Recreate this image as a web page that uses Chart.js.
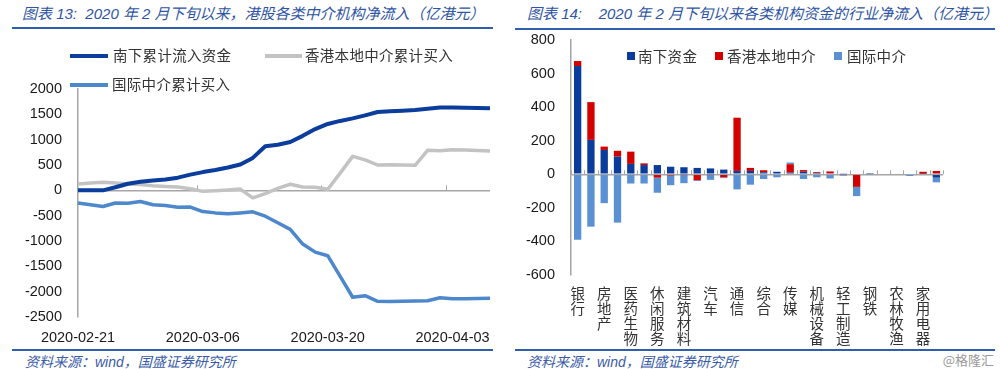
<!DOCTYPE html>
<html>
<head>
<meta charset="utf-8">
<script src="https://cdn.jsdelivr.net/npm/chart.js@4"></script>
<style>
  body { margin: 0; width: 1000px; height: 369px; background: #fff; position: relative; overflow: hidden;
         font-family: "Liberation Sans", Arial, "Noto Sans CJK SC", sans-serif; }
  .title { position: absolute; top: 2px; font-size: 15px; font-style: italic; color: #2f55a4; white-space: nowrap;
           font-family: "Liberation Sans", "Noto Sans CJK SC", sans-serif; }
  .rule { position: absolute; background: #2e5fae; }
  .source { position: absolute; top: 351px; font-size: 14px; font-style: italic; color: #3a5ba8; white-space: nowrap;
            font-family: "Liberation Sans", "Noto Sans CJK SC", sans-serif; }
  .box { position: absolute; }
  .lg { position: absolute; font-size: 14.5px; color: #333; white-space: nowrap; letter-spacing: 0.3px;
        font-family: "Noto Sans CJK SC", sans-serif; line-height: 18px; }
  .lg i { position: absolute; display: block; }
  .mark { position: absolute; top: 350px; right: 6px; font-size: 13px; color: #9a9a9a; font-family: "Noto Sans CJK SC", sans-serif; }
</style>
</head>
<body>

<div class="title" style="left:22px">图表 13:&nbsp; 2020 年 2 月下旬以来，港股各类中介机构净流入（亿港元）</div>
<div class="rule" style="left:12px; top:27px; width:481px; height:2px"></div>
<div class="title" style="left:527px">图表 14:&nbsp;&nbsp;&nbsp; 2020 年 2 月下旬以来各类机构资金的行业净流入（亿港元）</div>
<div class="rule" style="left:515px; top:28px; width:480px; height:2px"></div>

<div class="box" style="left:0; top:30px; width:500px; height:318px"><canvas id="flowChart" width="500" height="318"></canvas></div>
<div class="box" style="left:500px; top:30px; width:500px; height:318px"><canvas id="industryChart" width="500" height="318"></canvas></div>

<!-- legends -->
<div class="lg" style="left:70px; top:46px"><i style="left:0; top:8px; width:38px; height:4px; background:#0b3d9c"></i><span style="margin-left:43px">南下累计流入资金</span></div>
<div class="lg" style="left:265px; top:46px"><i style="left:0; top:8px; width:37px; height:4px; background:#c3c3c3"></i><span style="margin-left:40px">香港本地中介累计买入</span></div>
<div class="lg" style="left:70px; top:75px"><i style="left:0; top:8px; width:38px; height:4px; background:#4d87cc"></i><span style="margin-left:42px">国际中介累计买入</span></div>

<div class="lg" style="left:627px; top:47px"><i style="left:0; top:5px; width:8px; height:8px; background:#0a3c9c"></i><span style="margin-left:11px">南下资金</span></div>
<div class="lg" style="left:715px; top:47px"><i style="left:0; top:5px; width:8px; height:8px; background:#d40000"></i><span style="margin-left:12px">香港本地中介</span></div>
<div class="lg" style="left:834px; top:47px"><i style="left:0; top:5px; width:8px; height:8px; background:#5a90d4"></i><span style="margin-left:13px">国际中介</span></div>

<div class="rule" style="left:12px; top:349px; width:481px; height:1.5px"></div>
<div class="source" style="left:25px">资料来源：wind，国盛证券研究所</div>
<div class="rule" style="left:515px; top:349px; width:480px; height:1.5px"></div>
<div class="source" style="left:527px">资料来源：wind，国盛证券研究所</div>
<div class="mark">@格隆汇</div>

<script>
// ── Data: cumulative flows (chart 13) ─────────
const dates = [
  '2020-02-21', '2020-02-24', '2020-02-25', '2020-02-26', '2020-02-27', '2020-02-28',
  '2020-03-02', '2020-03-03', '2020-03-04', '2020-03-05', '2020-03-06',
  '2020-03-09', '2020-03-10', '2020-03-11', '2020-03-12', '2020-03-13',
  '2020-03-16', '2020-03-17', '2020-03-18', '2020-03-19', '2020-03-20',
  '2020-03-23', '2020-03-24', '2020-03-25', '2020-03-26', '2020-03-27',
  '2020-03-30', '2020-03-31', '2020-04-01', '2020-04-02', '2020-04-03',
  '2020-04-06', '2020-04-07', '2020-04-08'
];
const southFlow = [
  0, 0, 0, 60, 130, 170, 195, 215, 250, 310, 360,
  400, 450, 510, 640, 870, 900, 955, 1075, 1210, 1310,
  1370, 1420, 1480, 1545, 1560, 1570, 1585, 1610, 1635, 1635,
  1630, 1625, 1620
];
const localBrokers = [
  125, 145, 160, 145, 125, 115, 90, 75, 65, 30, -20,
  -10, 5, 25, -150, -65, 40, 120, 65, 60, 20,
  340, 670, 600, 500, 505, 500, 495, 790, 780, 800,
  795, 785, 775
];
const intlBrokers = [
  -250, -285, -320, -250, -255, -220, -285, -300, -335, -330, -420,
  -445, -460, -445, -425, -510, -640, -770, -1060, -1220, -1290,
  -1700, -2110, -2080, -2190, -2195, -2190, -2185, -2180, -2120, -2140,
  -2140, -2135, -2130
];
const flowLabelEvery = 10;

// ── Data: industry net inflow (chart 14) ──────
const industries = [
  '银行', '非银金融', '房地产', '公用事业', '医药生物', '食品饮料', '休闲服务', '交通运输',
  '建筑材料', '电子', '汽车', '计算机', '通信', '有色金属', '综合', '化工',
  '传媒', '商业贸易', '机械设备', '纺织服装', '轻工制造', '采掘', '钢铁', '国防军工',
  '农林牧渔', '电气设备', '家用电器', '建筑装饰'
];
const southByIndustry = [
  645, 205, 145, 105, 62, 55, 55, 45, 42, 38, 35, 28, 20, 20,
  12, 15, 10, 15, 8, 5, 3, 0, 1, 0, 0, 0, 3, -20
];
const localByIndustry = [
  30, 225, 20, 35, 73, 10, -20, -8, -3, -35, -3, -18, 317, 18,
  12, 0, 50, 10, 5, 12, -3, -75, 0, 0, 0, 0, 12, 20
];
const intlByIndustry = [
  -390, -312, -172, -288, -55, -55, -90, -57, -50, -5, -30, -5, -90, -62,
  -28, -18, 10, -28, -18, -25, -5, -55, 0, 0, 0, -10, 0, -28
];

// ── Shared bits ───────────────────────────────
Chart.defaults.font.family = '"Liberation Sans", Arial, "Noto Sans CJK SC", sans-serif';
Chart.defaults.color = '#1a1a1a';
Chart.defaults.animation = false;

const zeroGrid = ctx => ctx.tick.value === 0 ? '#a6a6a6' : 'rgba(0,0,0,0)';
const plainNumber = v => String(v);

// fixed axis width, and no extra room reserved for the end labels
const fixWidth = w => s => { s.width = w; s.paddingTop = 0; s.paddingBottom = 0; };

// small tick marks sitting on the zero line
const zeroTicks = {
  id: 'zeroTicks',
  beforeDatasetsDraw(chart, args, opts) {
    const { ctx, scales: { x, y } } = chart;
    const y0 = y.getPixelForValue(0);
    ctx.save();
    ctx.strokeStyle = '#a6a6a6';
    ctx.lineWidth = 1;
    opts.positions(x).forEach(px => {
      ctx.beginPath();
      ctx.moveTo(Math.round(px) + 0.5, y0 - opts.len);
      ctx.lineTo(Math.round(px) + 0.5, y0);
      ctx.stroke();
    });
    ctx.restore();
  }
};

// ── Chart 13: lines ───────────────────────────
new Chart(document.getElementById('flowChart'), {
  type: 'line',
  data: {
    labels: dates,
    datasets: [
      { label: '南下累计流入资金', data: southFlow, borderColor: '#0b3d9c', borderWidth: 4 },
      { label: '香港本地中介累计买入', data: localBrokers, borderColor: '#c3c3c3', borderWidth: 3.5 },
      { label: '国际中介累计买入', data: intlBrokers, borderColor: '#4d87cc', borderWidth: 3.5 }
    ]
  },
  options: {
    responsive: false,
    layout: { padding: { top: 59, right: 10, left: 0, bottom: 0 } },
    elements: { point: { radius: 0 }, line: { tension: 0, borderJoinStyle: 'round' } },
    plugins: {
      legend: { display: false },
      tooltip: { enabled: false },
      zeroTicks: {
        len: 5,
        positions: x => dates.map((d, i) => i).filter(i => i > 0 && i % flowLabelEvery === 0)
          .map(i => (x.getPixelForValue(i - 1) + x.getPixelForValue(i)) / 2)
      }
    },
    scales: {
      x: {
        offset: false,
        grid: { display: false },
        border: { display: false },
        ticks: {
          autoSkip: false, maxRotation: 0, padding: 4,
          font: { size: 14.5 },
          callback: (v, i) => i % flowLabelEvery === 0 ? dates[i] : ''
        },
        afterFit: s => { s.height = 31; }
      },
      y: {
        min: -2500, max: 2000,
        ticks: { stepSize: 500, padding: 16, font: { size: 14.5 }, callback: plainNumber },
        grid: { color: zeroGrid, lineWidth: 1.5, drawTicks: false },
        border: { display: true, color: '#a6a6a6', width: 1.5 },
        afterFit: fixWidth(78)
      }
    }
  },
  plugins: [zeroTicks]
});

// ── Chart 14: stacked bars ────────────────────
new Chart(document.getElementById('industryChart'), {
  type: 'bar',
  data: {
    labels: industries,
    datasets: [
      { label: '南下资金', data: southByIndustry, backgroundColor: '#0a3c9c' },
      { label: '香港本地中介', data: localByIndustry, backgroundColor: '#d40000' },
      { label: '国际中介', data: intlByIndustry, backgroundColor: '#5a90d4' }
    ]
  },
  options: {
    responsive: false,
    layout: { padding: { top: 10, right: 57, left: 0, bottom: 0 } },
    datasets: { bar: { barPercentage: 0.55, categoryPercentage: 1 } },
    plugins: {
      legend: { display: false },
      tooltip: { enabled: false },
      zeroTicks: {
        len: 4,
        positions: x => industries.map((n, i) => x.getPixelForValue(i) - (x.width / industries.length) / 2)
          .concat([x.right])
      }
    },
    scales: {
      x: {
        stacked: true,
        grid: { display: false },
        border: { display: false },
        ticks: {
          autoSkip: false, maxRotation: 0, padding: 3,
          color: '#333',
          font: { size: 14.5, family: '"Noto Sans CJK SC", sans-serif', lineHeight: '15px' },
          callback: (v, i) => i % 2 === 0 ? industries[i].split('') : ''
        },
        afterFit: s => { s.height = 73; }
      },
      y: {
        stacked: true,
        min: -600, max: 800,
        ticks: { stepSize: 200, padding: 16, font: { size: 14.5 }, callback: plainNumber },
        grid: { color: zeroGrid, lineWidth: 1.5, drawTicks: false },
        border: { display: true, color: '#a6a6a6', width: 1.5 },
        afterFit: fixWidth(71)
      }
    }
  },
  plugins: [zeroTicks]
});
</script>
</body>
</html>
